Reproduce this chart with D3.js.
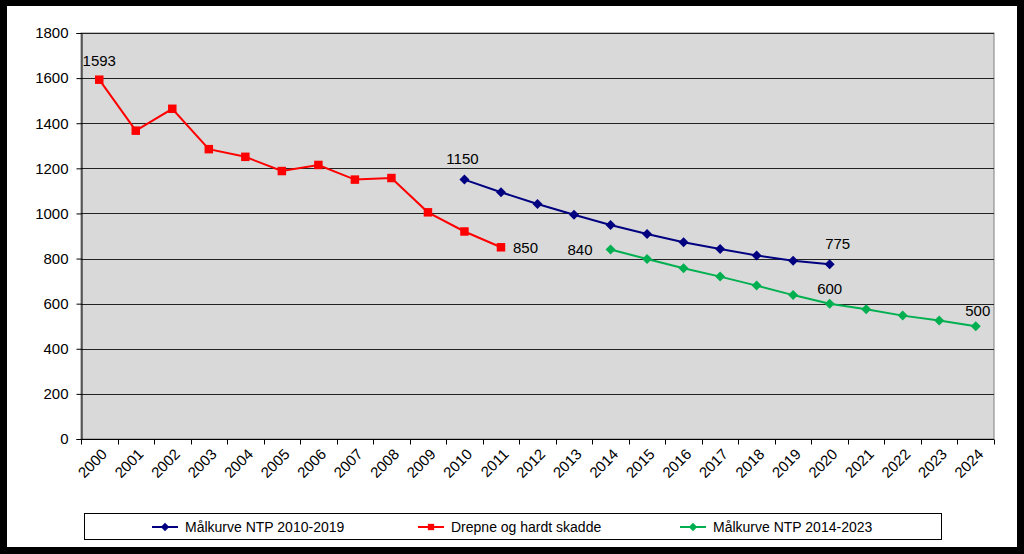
<!DOCTYPE html>
<html><head><meta charset="utf-8">
<script src="https://cdn.jsdelivr.net/npm/d3@7"></script>
<style>body{margin:0;background:#000;}svg{display:block;}</style>
</head><body>
<svg id="c" width="1024" height="554"></svg>
<script>
const years = d3.range(2000, 2025).map(String);
const yTicks = [0, 200, 400, 600, 800, 1000, 1200, 1400, 1600, 1800];

const redYears = ["2000","2001","2002","2003","2004","2005","2006","2007","2008","2009","2010","2011"];
const redValues = [1593, 1367, 1464, 1285, 1251, 1188, 1215, 1150, 1157, 1005, 920, 850];

const blueYears = ["2010","2011","2012","2013","2014","2015","2016","2017","2018","2019","2020"];
const blueValues = [1150, 1094, 1042, 994, 949, 909, 872, 842, 814, 790, 775];

const greenYears = ["2014","2015","2016","2017","2018","2019","2020","2021","2022","2023","2024"];
const greenValues = [840, 798, 757, 720, 680, 638, 600, 575, 547, 525, 500];

const seriesNames = ["Målkurve NTP 2010-2019", "Drepne og hardt skadde", "Målkurve NTP 2014-2023"];

const font = "Liberation Sans, Arial, sans-serif";
const svg = d3.select("#c");
svg.append("rect").attr("x",7).attr("y",6).attr("width",1010).attr("height",541).attr("fill","#fff");

const L = 81, R = 994, T = 33, B = 439;
const x = d3.scaleBand().domain(years).range([L, R]);
const y = d3.scaleLinear().domain([0, 1800]).range([B, T]);

svg.append("rect").attr("x",L).attr("y",T).attr("width",R-L).attr("height",B-T)
  .attr("fill","#d9d9d9").attr("stroke","#808080").attr("stroke-width",1);

// gridlines
svg.append("g").selectAll("line").data(yTicks.filter(d=>d>0)).join("line")
  .attr("x1",L).attr("x2",R).attr("y1",d=>Math.round(y(d))+0.5).attr("y2",d=>Math.round(y(d))+0.5)
  .attr("stroke","#222").attr("stroke-width",1);

// y axis
const ya = svg.append("g").attr("transform",`translate(${L+0.5},0)`)
  .call(d3.axisLeft(y).tickValues(yTicks).tickFormat(d3.format("d")).tickSize(5).tickPadding(8));
ya.select(".domain").attr("stroke","#000");
ya.selectAll(".tick line").attr("stroke","#000");
ya.selectAll("text").attr("font-family",font).attr("font-size","15px").attr("fill","#000");

// x axis
const xa = svg.append("g").attr("transform",`translate(0,${B+0.5})`);
xa.append("line").attr("x1",L).attr("x2",R).attr("stroke","#000");
const bounds = years.map(d=>x(d)).concat([R]);
xa.selectAll("line.t").data(bounds).join("line").attr("class","t")
  .attr("x1",d=>Math.round(d)+0.5).attr("x2",d=>Math.round(d)+0.5).attr("y1",0).attr("y2",5).attr("stroke","#000");
xa.selectAll("text").data(years).join("text")
  .attr("transform",d=>`translate(${x(d)+x.bandwidth()/2+5},12) rotate(-45)`)
  .attr("text-anchor","end").attr("dy","0.35em")
  .attr("font-family",font).attr("font-size","15px").text(d=>d);

const cx = d => x(d) + x.bandwidth()/2;
const line = d3.line().x(d=>cx(d[0])).y(d=>y(d[1]));

function drawSeries(ys, vs, color, rot, size){
  const data = ys.map((d,i)=>[d, vs[i]]);
  svg.append("path").datum(data).attr("d",line).attr("fill","none").attr("stroke",color).attr("stroke-width",2);
  svg.append("g").selectAll("path").data(data).join("path")
    .attr("transform",d=>`translate(${cx(d[0])},${y(d[1])}) rotate(${rot})`)
    .attr("d",d3.symbol().type(d3.symbolSquare).size(size)).attr("fill",color);
}
drawSeries(redYears, redValues, "#ff0000", 0, 72);
drawSeries(blueYears, blueValues, "#000080", 45, 50);
drawSeries(greenYears, greenValues, "#00b050", 45, 50);

// data labels
function label(yr, v, dx, dy, anchor){
  svg.append("text").attr("x",cx(yr)+dx).attr("y",y(v)+dy).attr("text-anchor",anchor)
    .attr("font-family",font).attr("font-size","15px").attr("fill","#000").text(v);
}
label(redYears[0], redValues[0], 0, -14, "middle");
label(redYears[11], redValues[11], 12, 6, "start");
label(blueYears[0], blueValues[0], -2, -16, "middle");
label(blueYears[10], blueValues[10], 8, -15, "middle");
label(greenYears[0], greenValues[0], -18, 5, "end");
label(greenYears[6], greenValues[6], 0, -10, "middle");
label(greenYears[10], greenValues[10], 2, -10, "middle");

// legend
svg.append("rect").attr("x",84.5).attr("y",513.5).attr("width",857).attr("height",26)
  .attr("fill","#fff").attr("stroke","#000").attr("stroke-width",1);
const legItems = [
  {name: seriesNames[0], color:"#000080", rot:45, size:36, x:152},
  {name: seriesNames[1], color:"#ff0000", rot:0, size:40, x:418},
  {name: seriesNames[2], color:"#00b050", rot:45, size:36, x:680}
];
const lg = svg.append("g").selectAll("g").data(legItems).join("g").attr("transform",d=>`translate(${d.x},527)`);
lg.append("line").attr("x1",0).attr("x2",26).attr("stroke",d=>d.color).attr("stroke-width",2);
lg.append("path").attr("transform",d=>`translate(13,0) rotate(${d.rot})`).attr("d",d=>d3.symbol().type(d3.symbolSquare).size(d.size)()).attr("fill",d=>d.color);
lg.append("text").attr("x",33).attr("dy","0.35em").attr("font-family",font).attr("font-size","14px").text(d=>d.name);
</script>
</body></html>
